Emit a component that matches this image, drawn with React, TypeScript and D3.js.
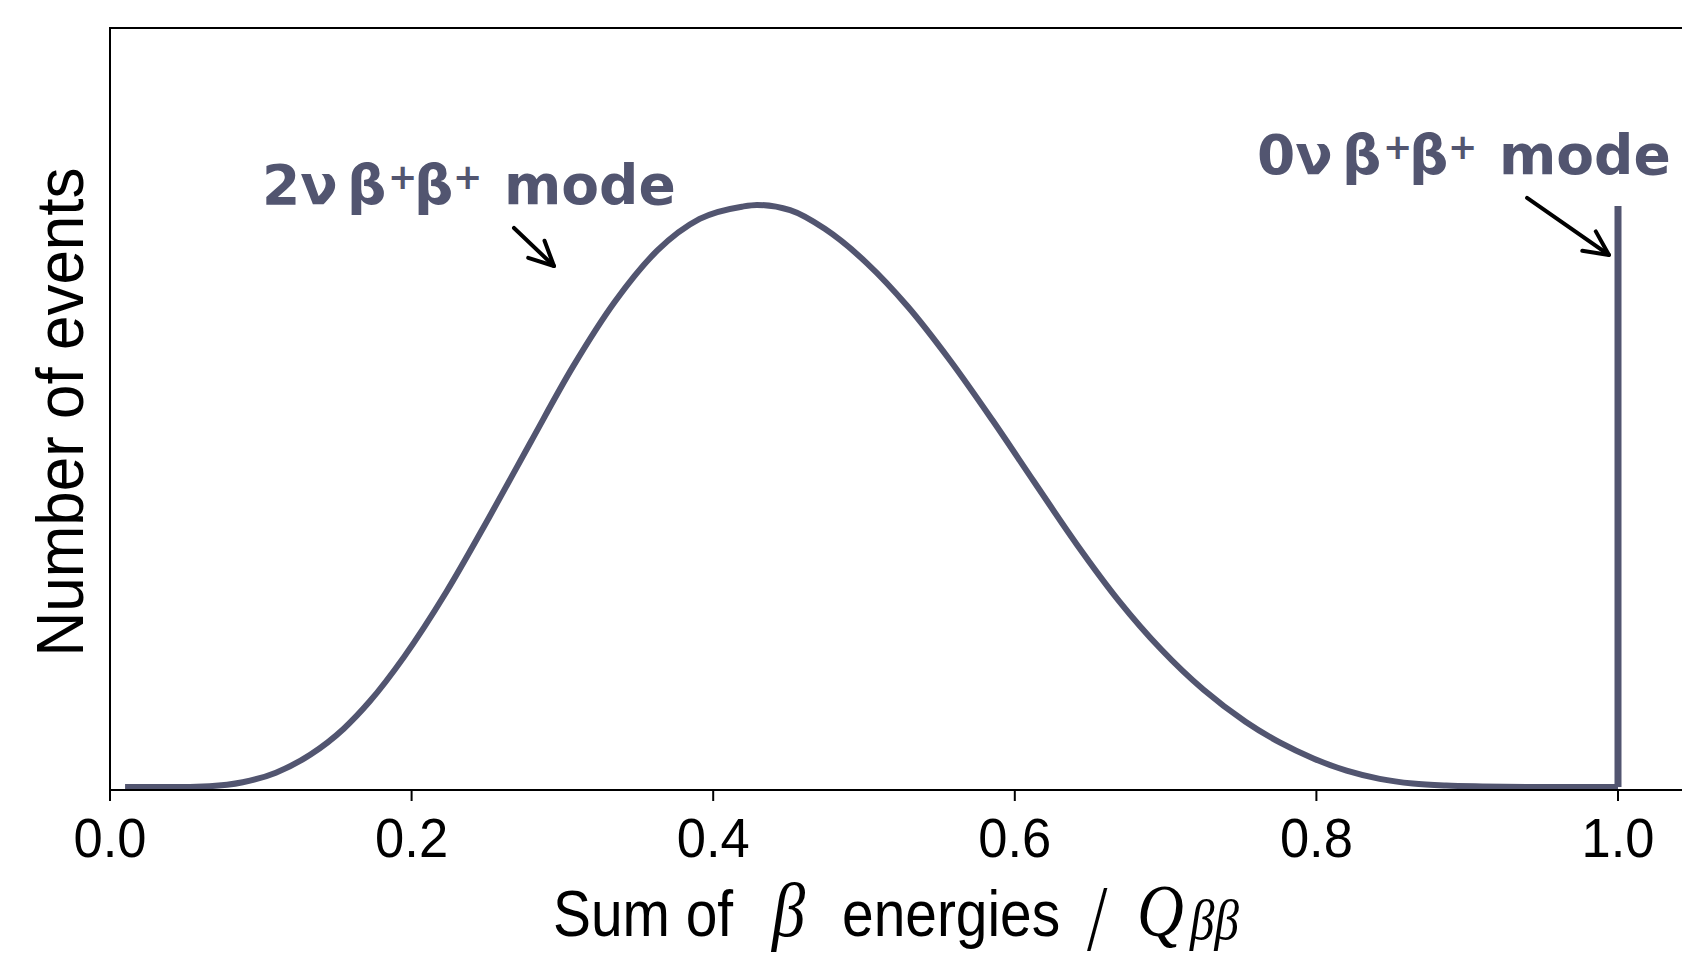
import React from "react";
import * as d3 from "d3";

// ---- data ----
const energyFraction = [
  0.01, 0.04, 0.066, 0.088, 0.11, 0.133, 0.155, 0.172, 0.195, 0.223, 0.251,
  0.279, 0.307, 0.335, 0.363, 0.391, 0.419, 0.429, 0.451, 0.474, 0.502,
  0.529, 0.557, 0.585, 0.613, 0.641, 0.669, 0.697, 0.725, 0.753, 0.776,
  0.798, 0.82, 0.842, 0.864, 0.886, 0.91, 0.95, 1.0,
];
const events2nu = [
  0.0, 0.0, 0.0016, 0.0082, 0.0247, 0.0558, 0.1, 0.146, 0.223, 0.334, 0.46,
  0.591, 0.72, 0.832, 0.919, 0.973, 0.994, 0.997, 0.988, 0.956, 0.897,
  0.823, 0.731, 0.629, 0.522, 0.416, 0.319, 0.236, 0.167, 0.112, 0.076,
  0.049, 0.028, 0.014, 0.006, 0.0025, 0.001, 0.0, 0.0,
];
const zeroNuPosition = 1.0;
const zeroNuHeight = 0.995;
const xTicks = [0.0, 0.2, 0.4, 0.6, 0.8, 1.0];
const xDomain: [number, number] = [0, 1.05];
const yDomain: [number, number] = [-0.005, 1.3];

const annotationLabels = ["2ν", "0ν"];
const annotationTextPos = [
  [0.1008, 0.9986],
  [0.7606, 1.05],
];
const arrowTail = [
  [0.2679, 0.9575],
  [0.9397, 1.0089],
];
const arrowTip = [
  [0.2944, 0.8924],
  [0.994, 0.9113],
];

// ---- layout ----
const W = 1682;
const H = 954;
const LEFT = 110;
const TOP = 28;
const BOTTOM = 790;
const UNIT = 1508;
const COLOR = "#525570";

export default function App() {
  const x = d3
    .scaleLinear()
    .domain(xDomain)
    .range([LEFT, LEFT + (xDomain[1] - xDomain[0]) * UNIT]);
  const y = d3.scaleLinear().domain(yDomain).range([BOTTOM, TOP]);

  const pts: [number, number][] = energyFraction.map((e, i) => [e, events2nu[i]]);
  const line = d3
    .line<[number, number]>()
    .x((d) => x(d[0]))
    .y((d) => y(d[1]))
    .curve(d3.curveMonotoneX);

  const xr = x.range();
  const sans = "'Liberation Sans', Arial, sans-serif";
  const serif = "'Liberation Serif', 'DejaVu Serif', serif";
  const bold = "'DejaVu Sans', sans-serif";

  const arrow = (i: number) => {
    const [tx, ty] = [x(arrowTail[i][0]), y(arrowTail[i][1])];
    const [hx, hy] = [x(arrowTip[i][0]), y(arrowTip[i][1])];
    const ang = Math.atan2(ty - hy, tx - hx);
    const L = 27;
    const a = (26 * Math.PI) / 180;
    const b1 = [hx + L * Math.cos(ang + a), hy + L * Math.sin(ang + a)];
    const b2 = [hx + L * Math.cos(ang - a), hy + L * Math.sin(ang - a)];
    return (
      <g key={"arrow" + i} stroke="#000" strokeWidth={4} strokeLinecap="round" strokeLinejoin="round" fill="none">
        <line x1={tx} y1={ty} x2={hx} y2={hy} />
        <path d={`M${b1[0]},${b1[1]} L${hx},${hy} L${b2[0]},${b2[1]}`} />
      </g>
    );
  };

  const label = (i: number) => {
    const lx = x(annotationTextPos[i][0]);
    const ly = y(annotationTextPos[i][1]);
    return (
      <text key={"label" + i} fill={COLOR} fontFamily={bold} fontWeight="bold" fontSize={55}>
        <tspan x={lx} y={ly}>{annotationLabels[i]}</tspan>
        <tspan x={lx + 85} y={ly}>β</tspan>
        <tspan x={lx + 126} y={ly - 15} fontSize={35}>+</tspan>
        <tspan x={lx + 152} y={ly}>β</tspan>
        <tspan x={lx + 191} y={ly - 15} fontSize={35}>+</tspan>
        <tspan x={lx + 242} y={ly}>mode</tspan>
      </text>
    );
  };

  // x label: one text, horizontally condensed to mimic the narrow reference face
  const cx = 900;
  const sx = 0.875;
  const lx = (X: number) => (X - cx) / sx;

  return (
    <svg
      width={W}
      height={H}
      style={{ position: "absolute", left: 0, top: 0, background: "#fff" }}
    >
      <rect x={0} y={0} width={W} height={H} fill="#fff" />

      {/* 2 neutrino spectrum */}
      <path d={line(pts) ?? ""} fill="none" stroke={COLOR} strokeWidth={6} strokeLinejoin="round" />
      {/* 0 neutrino line */}
      <line
        x1={x(zeroNuPosition)}
        x2={x(zeroNuPosition)}
        y1={y(0)}
        y2={y(zeroNuHeight)}
        stroke={COLOR}
        strokeWidth={7}
      />

      {/* spines */}
      <g stroke="#000" strokeWidth={2} fill="none">
        <line x1={xr[0]} x2={xr[0]} y1={TOP} y2={BOTTOM} />
        <line x1={xr[1]} x2={xr[1]} y1={TOP} y2={BOTTOM} />
        <line x1={xr[0] - 1} x2={xr[1] + 1} y1={TOP} y2={TOP} />
        <line x1={xr[0] - 1} x2={xr[1] + 1} y1={BOTTOM} y2={BOTTOM} />
      </g>

      {/* x ticks */}
      {xTicks.map((t) => (
        <g key={t}>
          <line x1={x(t)} x2={x(t)} y1={BOTTOM} y2={BOTTOM + 11} stroke="#000" strokeWidth={2} />
          <text
            x={x(t)}
            y={857}
            textAnchor="middle"
            fontFamily={sans}
            fontSize={56}
            textLength={73}
            lengthAdjust="spacingAndGlyphs"
            fill="#000"
          >
            {d3.format(".1f")(t)}
          </text>
        </g>
      ))}

      {/* x label */}
      <text
        transform={`translate(${cx},0) scale(${sx},1)`}
        fill="#000"
        fontFamily={sans}
        fontSize={65}
      >
        <tspan x={lx(553)} y={936}>Sum of</tspan>
        <tspan x={lx(772)} y={936} fontFamily={serif} fontStyle="italic" fontSize={76}>β</tspan>
        <tspan x={lx(842)} y={936}>energies</tspan>
        <tspan x={lx(1086)} y={944} fontFamily={bold} fontSize={76} fontWeight={300}>/</tspan>
        <tspan x={lx(1137)} y={936} fontFamily={serif} fontStyle="italic" fontSize={74}>Q</tspan>
        <tspan x={lx(1190)} y={939} fontFamily={serif} fontStyle="italic" fontSize={56}>ββ</tspan>
      </text>

      {/* y label */}
      <text
        transform={`translate(83, ${(TOP + BOTTOM) / 2 + 3}) rotate(-90)`}
        textAnchor="middle"
        fontFamily={sans}
        fontSize={66}
        textLength={489}
        lengthAdjust="spacingAndGlyphs"
        fill="#000"
      >
        Number of events
      </text>

      {/* annotations */}
      {annotationLabels.map((_, i) => label(i))}
      {annotationLabels.map((_, i) => arrow(i))}
    </svg>
  );
}
